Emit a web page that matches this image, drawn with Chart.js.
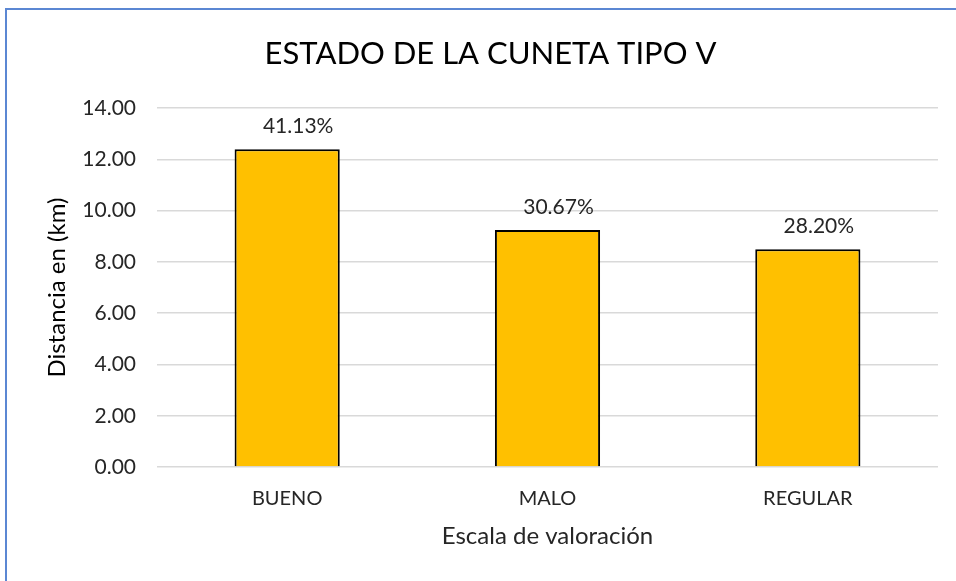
<!DOCTYPE html>
<html><head><meta charset="utf-8">
<script src="https://cdn.jsdelivr.net/npm/chart.js@4/dist/chart.umd.min.js"></script>
<style>
html,body{margin:0;padding:0;background:#fff;}
#wrap{position:relative;width:956px;height:581px;overflow:hidden;}
#frame{position:absolute;left:5px;top:8px;width:1000px;height:1000px;border-top:2px solid #5b87d3;border-left:2px solid #5b87d3;box-sizing:border-box;pointer-events:none;}
canvas{position:absolute;left:0;top:0;}
</style></head><body>
<div id="wrap"><canvas id="c" width="956" height="581"></canvas><div id="frame"></div></div>
<script>
const categories = ["BUENO", "MALO", "REGULAR"];
const distances = [12.40, 9.25, 8.50];
const percentLabels = ["41.13%", "30.67%", "28.20%"];
const yTicks = [0, 2, 4, 6, 8, 10, 12, 14];

const FONT = "Lato, 'Open Sans', sans-serif";

const labelPlugin = {
  id: 'pctLabels',
  afterDatasetsDraw(chart) {
    const ctx = chart.ctx;
    const meta = chart.getDatasetMeta(0);
    ctx.save();
    ctx.font = "21px " + FONT;
    ctx.fillStyle = "#262626";
    ctx.textAlign = "center";
    ctx.textBaseline = "alphabetic";
    meta.data.forEach((bar, i) => {
      ctx.fillText(percentLabels[i], bar.x + 11, bar.y - 16);
    });
    ctx.restore();
  }
};

new Chart(document.getElementById('c'), {
  type: 'bar',
  data: {
    labels: categories,
    datasets: [{
      data: distances,
      backgroundColor: '#ffc000',
      borderColor: '#000000',
      borderWidth: 2,
      borderSkipped: 'bottom',
      categoryPercentage: 1,
      barPercentage: 0.404
    }]
  },
  options: {
    responsive: false,
    animation: false,
    devicePixelRatio: 1,
    layout: { padding: { left: 43, right: 18, top: 0, bottom: 30 } },
    plugins: {
      legend: { display: false },
      tooltip: { enabled: false },
      title: {
        display: true,
        text: 'ESTADO DE LA CUNETA TIPO V',
        color: '#000000',
        font: { family: FONT, size: 31, weight: 'normal', lineHeight: 1.2 },
        padding: { top: 35, bottom: 36 }
      }
    },
    scales: {
      x: {
        grid: { display: false },
        border: { display: false },
        ticks: { color: '#262626', font: { family: FONT, size: 20 }, padding: 12 },
        title: { display: true, text: 'Escala de valoración', color: '#262626', font: { family: FONT, size: 24, lineHeight: 1.2 }, padding: { top: 0, bottom: 0 } },
        afterFit(s) { s.height = 84; }
      },
      y: {
        min: 0, max: 14,
        afterBuildTicks(s) { s.ticks = yTicks.map(v => ({ value: v })); },
        grid: { color: '#d9d9d9', lineWidth: 1.5, drawTicks: false },
        border: { display: false },
        ticks: { color: '#262626', font: { family: FONT, size: 21 }, padding: 21,
          callback: v => Number(v).toFixed(2) },
        title: { display: true, text: 'Distancia en (km)', color: '#000000', font: { family: FONT, size: 24, lineHeight: 1.2 }, padding: { top: 0, bottom: 0 } },
        afterFit(s) { s.width = 114; }
      }
    }
  },
  plugins: [labelPlugin]
});
</script>
</body></html>
